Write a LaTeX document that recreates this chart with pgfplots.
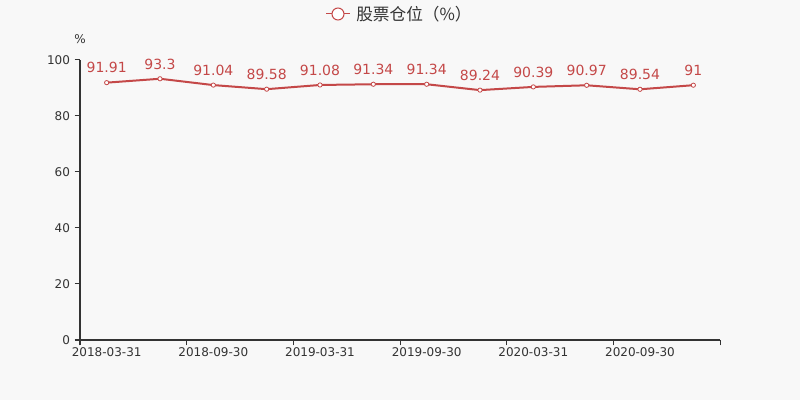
\documentclass[border=0pt]{standalone}
\usepackage{pgfplots}
\pgfplotsset{compat=1.18}
\usepackage{fontspec}
\setmainfont{DejaVu Sans}
\newfontfamily\cjk{Noto Sans CJK SC}
\definecolor{bg}{HTML}{F8F8F8}
\definecolor{ln}{RGB}{196,72,72}
\definecolor{tx}{HTML}{333333}
\begin{document}
\begin{tikzpicture}
\useasboundingbox (0pt,0pt) rectangle (600pt,300pt);
\fill[bg] (0pt,0pt) rectangle (600pt,300pt);
\begin{axis}[
  at={(60pt,45pt)}, anchor=south west,
  scale only axis, width=480pt, height=210pt,
  xmin=-0.5, xmax=11.5, ymin=0, ymax=100,
  axis lines*=left,
  axis line style={tx, line width=0.75pt},
  xtick={-0.5,1.5,3.5,5.5,7.5,9.5,11.5},
  xticklabels={},
  extra x ticks={0,2,4,6,8,10},
  extra x tick labels={2018-03-31,2018-09-30,2019-03-31,2019-09-30,2020-03-31,2020-09-30},
  extra x tick style={major tick length=0pt, xticklabel style={yshift=-2.5pt}},
  ytick={0,20,40,60,80,100},
  tick align=outside, major tick length=4pt,
  tick style={tx, line width=0.75pt},
  ticklabel style={font=\fontsize{9}{10}\selectfont, text=tx},
  /pgf/number format/assume math mode=true,
  clip=false,
]
\addplot[ln, line width=1.5pt, mark=*, mark size=1.6pt,
  mark options={fill=white, draw=ln, line width=0.6pt},
  nodes near coords,
  nodes near coords style={font=\fontsize{10.5}{12}\selectfont, text=ln, anchor=south, yshift=3.5pt},
  point meta=explicit symbolic]
coordinates {
(0,91.91) [91.91]
(1,93.3) [93.3]
(2,91.04) [91.04]
(3,89.58) [89.58]
(4,91.08) [91.08]
(5,91.34) [91.34]
(6,91.34) [91.34]
(7,89.24) [89.24]
(8,90.39) [90.39]
(9,90.97) [90.97]
(10,89.54) [89.54]
(11,91) [91]
};
\node[font=\fontsize{9}{10}\selectfont, text=tx] at (axis cs:-0.5,100) [yshift=16pt] {\%};
\end{axis}
\draw[ln, line width=0.75pt] (244.5pt,289.5pt) -- (262.5pt,289.5pt);
\draw[ln, fill=white, line width=0.75pt] (253.5pt,289.5pt) circle (4.5pt);
\node[anchor=west, text=tx, inner sep=0pt] at (267pt,289.5pt) {\cjk\fontsize{12.5}{14}\selectfont 股票仓位（\%）};
\end{tikzpicture}
\end{document}
